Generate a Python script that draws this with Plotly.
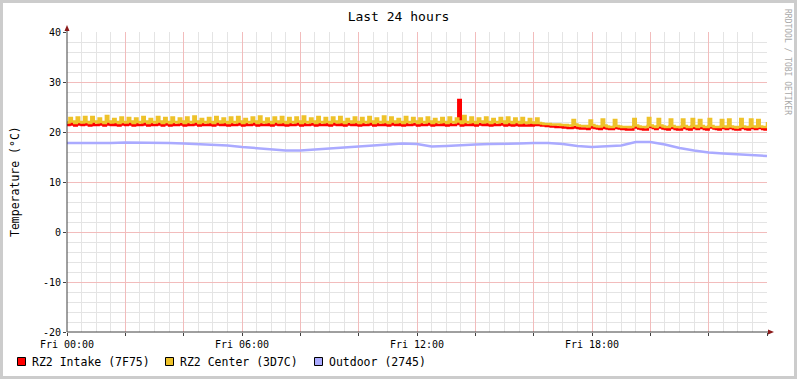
import plotly.graph_objects as go
import pandas as pd

# ---- data (5-minute samples, Fri 00:00 .. Sat 00:00) ----
intake_rows = [
    [21.4,21.7,21.5,21.3,21.6,21.5,21.4,21.7,21.5,21.3,21.7,21.4],
    [21.4,21.6,21.5,21.3,21.7,21.5,21.4,21.6,21.4,21.3,21.7,21.5],
    [21.4,21.7,21.5,21.3,21.6,21.4,21.4,21.7,21.5,21.3,21.6,21.4],
    [21.4,21.7,21.5,21.3,21.6,21.5,21.3,21.7,21.4,21.4,21.6,21.5],
    [21.3,21.7,21.4,21.4,21.7,21.5,21.3,21.6,21.4,21.4,21.6,21.4],
    [21.3,21.7,21.5,21.4,21.6,21.4,21.3,21.7,21.4,21.4,21.7,21.5],
    [21.3,21.6,21.4,21.4,21.7,21.5,21.3,21.7,21.4,21.4,21.6,21.4],
    [21.3,21.7,21.5,21.4,21.7,21.4,21.3,21.6,21.4,21.4,21.7,21.5],
    [21.3,21.7,21.4,21.4,21.6,21.5,21.3,21.7,21.4,21.4,21.6,21.4],
    [21.3,21.7,21.5,21.4,21.7,21.4,21.3,21.6,21.5,21.4,21.7,21.4],
    [21.3,21.6,21.4,21.4,21.7,21.5,21.3,21.6,21.4,21.4,21.7,21.4],
    [21.3,21.7,21.5,21.4,21.6,21.4,21.3,21.7,21.4,21.4,21.6,21.5],
    [21.3,21.6,21.4,21.4,21.7,21.5,21.3,21.6,21.4,21.4,21.6,21.4],
    [21.3,21.7,21.4,21.4,21.6,26.4,21.3,21.7,21.4,21.4,21.7,21.4],
    [21.3,21.6,21.5,21.4,21.7,21.4,21.3,21.6,21.4,21.4,21.6,21.5],
    [21.3,21.7,21.4,21.3,21.6,21.4,21.3,21.6,21.3,21.3,21.5,21.3],
    [21.4,21.6,21.4,21.3,21.3,21.2,21.2,21.1,21.1,21.0,21.0,21.0],
    [20.9,20.9,20.8,20.8,21.0,20.9,20.8,20.7,20.7,20.7,20.6,20.9],
    [21.0,20.8,20.7,20.6,21.0,20.8,20.7,20.6,20.6,21.0,20.8,20.7],
    [20.6,20.6,20.5,20.5,20.5,21.1,20.9,20.7,20.6,20.5,20.5,21.2],
    [21.0,20.8,20.6,21.1,20.9,20.7,20.6,20.5,21.1,20.8,20.6,20.5],
    [20.5,21.1,20.8,20.6,20.5,21.1,20.8,20.6,21.0,20.8,20.6,20.5],
    [21.1,20.9,20.7,20.6,20.5,21.0,20.8,20.6,21.1,20.8,20.6,20.5],
    [20.5,21.1,20.8,20.6,20.5,21.0,20.8,20.6,21.0,20.8,20.6,20.5],
    [20.8],
]
center_rows = [
    [21.9,22.8,22.1,21.8,22.9,22.0,21.9,23.0,22.0,21.8,23.0,22.1],
    [21.9,22.7,22.0,21.8,23.2,22.1,21.9,22.6,22.0,21.8,22.9,22.0],
    [21.9,22.8,22.1,21.8,22.7,22.0,21.9,23.0,22.1,21.8,22.6,22.0],
    [21.9,23.0,22.1,21.8,22.8,22.0,21.8,22.9,22.0,21.9,22.7,22.1],
    [21.8,22.9,22.0,21.9,23.1,22.1,21.8,22.6,22.0,21.9,22.8,22.0],
    [21.8,23.0,22.1,21.9,22.7,22.0,21.8,22.9,22.0,21.9,23.0,22.1],
    [21.8,22.6,22.0,21.9,22.9,22.1,21.8,23.1,22.0,21.9,22.7,22.0],
    [21.8,22.9,22.1,21.9,23.0,22.0,21.8,22.8,22.0,21.9,22.9,22.1],
    [21.8,23.1,22.0,21.9,22.7,22.1,21.8,23.0,22.0,21.9,22.8,22.0],
    [21.8,22.9,22.1,21.9,23.0,22.0,21.8,22.6,22.1,21.9,22.9,22.0],
    [21.8,22.8,22.0,21.9,23.0,22.1,21.8,22.7,22.0,21.9,23.1,22.0],
    [21.8,22.9,22.1,21.9,22.6,22.0,21.8,23.0,22.0,21.9,22.8,22.1],
    [21.8,22.7,22.0,21.9,22.9,22.1,21.8,22.6,22.0,21.9,22.8,22.0],
    [21.8,22.9,22.0,21.9,22.7,22.1,21.8,23.2,22.0,21.9,22.9,22.0],
    [21.8,22.7,22.1,21.9,22.9,22.0,21.8,22.6,22.0,21.9,22.8,22.1],
    [21.8,22.9,22.0,21.8,22.7,22.0,21.8,22.8,21.9,21.8,22.6,21.9],
    [21.8,22.7,21.8,21.7,21.6,21.6,21.6,21.5,21.5,21.5,21.5,21.4],
    [21.4,21.4,21.3,21.3,22.4,21.5,21.3,21.2,21.2,21.2,21.1,22.3],
    [21.4,21.2,21.1,21.1,22.5,21.3,21.1,21.0,21.0,22.4,21.2,21.1],
    [21.0,21.0,21.0,21.0,21.0,22.6,21.3,21.1,21.0,21.0,21.0,22.8],
    [21.3,21.1,21.0,22.6,21.3,21.1,21.0,21.0,22.5,21.2,21.0,21.0],
    [21.0,22.5,21.2,21.0,21.0,22.6,21.2,21.0,22.4,21.2,21.0,21.0],
    [22.6,21.2,21.0,21.0,21.0,22.4,21.1,21.0,22.5,21.1,21.0,20.9],
    [21.0,22.6,21.1,21.0,21.0,22.5,21.1,21.0,22.4,21.1,21.0,21.0],
    [22.0],
]
# outdoor, 30-minute samples
outdoor = [17.8,17.8,17.7,17.8,17.9,17.9,17.8,17.8,17.7,17.6,17.5,17.3,
           17.0,16.8,16.5,16.3,16.3,16.5,16.7,16.8,17.0,17.2,17.4,17.7,
           17.6,17.1,17.2,17.4,17.5,17.6,17.6,17.7,17.8,17.8,17.6,17.2,
           17.0,17.1,17.3,18.0,18.0,17.5,16.8,16.3,15.9,15.7,15.5,15.3,15.2]

intake = [v for r in intake_rows for v in r]
center = [v for r in center_rows for v in r]
t5 = pd.date_range("2024-01-05 00:00", periods=len(intake), freq="5min")
t30 = pd.date_range("2024-01-05 00:00", periods=len(outdoor), freq="30min")

series_names = ["RZ2 Intake (7F75)", "RZ2 Center (3D7C)", "Outdoor (2745)"]
colors = ["#FF0000", "#EEC22A", "#AAAAFF"]

tick_vals = pd.date_range("2024-01-05 00:00", "2024-01-06 00:00", freq="2h")
tick_text = ["Fri 00:00", "", "", "Fri 06:00", "", "", "Fri 12:00", "", "",
             "Fri 18:00", "", "", ""]
y_tick_vals = [-20, -10, 0, 10, 20, 30, 40]
y_tick_text = ["-20", "-10", "0", "10", "20", "30", "40"]

MONO = "DejaVu Sans Mono"
fig = go.Figure()
fig.add_trace(go.Scatter(x=t5, y=intake, mode="lines", line=dict(color=colors[0], width=2.5, shape="hv"),
                         name=series_names[0], hoverinfo="skip"))
fig.add_trace(go.Scatter(x=t5, y=center, mode="lines", line=dict(color=colors[1], width=2.5, shape="hv"),
                         name=series_names[1], hoverinfo="skip"))
fig.add_trace(go.Scatter(x=t30, y=outdoor, mode="lines", line=dict(color=colors[2], width=2.5),
                         name=series_names[2], hoverinfo="skip"))

L, T, W, H = 67, 32, 700, 300
def px(x): return (x - L) / W
def py(y): return (T + H - y) / H

shapes = []
# outer frame
shapes.append(dict(type="rect", xref="paper", yref="paper", x0=px(1.5), x1=px(795.5),
                   y0=py(377.5), y1=py(1.5), line=dict(color="#CCCCCC", width=3), layer="below"))
# axes lines extending past plot
shapes.append(dict(type="line", xref="paper", yref="paper", x0=0, x1=0, y0=0, y1=py(29),
                   line=dict(color="#404040", width=1)))
shapes.append(dict(type="line", xref="paper", yref="paper", x0=0, x1=px(769), y0=0, y1=0,
                   line=dict(color="#404040", width=1)))
# arrows
shapes.append(dict(type="path", xref="paper", yref="paper",
                   path=f"M {px(64.5)} {py(31)} L {px(69.5)} {py(31)} L {px(67)} {py(25)} Z",
                   fillcolor="#8B1A1A", line=dict(color="#8B1A1A", width=0)))
shapes.append(dict(type="path", xref="paper", yref="paper",
                   path=f"M {px(768)} {py(329.5)} L {px(768)} {py(334.5)} L {px(774)} {py(332)} Z",
                   fillcolor="#8B1A1A", line=dict(color="#8B1A1A", width=0)))

annotations = [
    dict(text="Temperature (°C)", xref="paper", yref="paper", x=px(15), y=py(182),
         textangle=-90, showarrow=False, font=dict(family=MONO, size=11.5, color="#000000"),
         xanchor="center", yanchor="middle"),
    dict(text="RRDTOOL / TOBI OETIKER", xref="paper", yref="paper", x=px(787), y=py(62),
         textangle=90, showarrow=False, font=dict(family=MONO, size=8, color="#A8A8A8"),
         xanchor="center", yanchor="middle"),
]
legend_x = [17, 165, 314]
for i, name in enumerate(series_names):
    x0 = legend_x[i]
    shapes.append(dict(type="rect", xref="paper", yref="paper", x0=px(x0 + 0.5), x1=px(x0 + 8.5),
                       y0=py(365.5), y1=py(357.5), fillcolor=colors[i],
                       line=dict(color="#000000", width=1)))
    annotations.append(dict(text=name, xref="paper", yref="paper", x=px(x0 + 13), y=py(361.5),
                            showarrow=False, xanchor="left", yanchor="middle",
                            font=dict(family=MONO, size=11.5, color="#000000")))

fig.update_layout(
    width=797, height=379,
    margin=dict(l=L, r=797 - L - W, t=T, b=379 - T - H),
    paper_bgcolor="#FFFFFF", plot_bgcolor="#FFFFFF",
    showlegend=False,
    title=dict(text="Last 24 hours", x=0.5, xref="container", xanchor="center",
               y=1 - 16 / 379, yanchor="middle", font=dict(family=MONO, size=13, color="#000000")),
    shapes=shapes, annotations=annotations,
    font=dict(family=MONO, size=10, color="#000000"),
)
fig.update_xaxes(
    type="date", range=["2024-01-05 00:00", "2024-01-06 00:00"],
    tickmode="array", tickvals=tick_vals, ticktext=tick_text,
    showgrid=True, gridcolor="#F2BCBC", gridwidth=1,
    minor=dict(dtick=1800000, showgrid=True, gridcolor="#E4E4E4", gridwidth=1),
    ticks="outside", ticklen=3, tickcolor="#404040",
    zeroline=False, showline=False, tickfont=dict(family=MONO, size=10),
)
fig.update_yaxes(
    range=[-20, 40], tickmode="array", tickvals=y_tick_vals, ticktext=y_tick_text,
    showgrid=True, gridcolor="#F2BCBC", gridwidth=1,
    minor=dict(dtick=2, tick0=0, showgrid=True, gridcolor="#E4E4E4", gridwidth=1),
    ticks="outside", ticklen=3, tickcolor="#404040",
    zeroline=False, showline=False, tickfont=dict(family=MONO, size=10),
)
fig.write_html("out.html", config={"displayModeBar": False, "staticPlot": True},
               post_script="document.body.style.margin='0';document.body.style.overflow='hidden';")
